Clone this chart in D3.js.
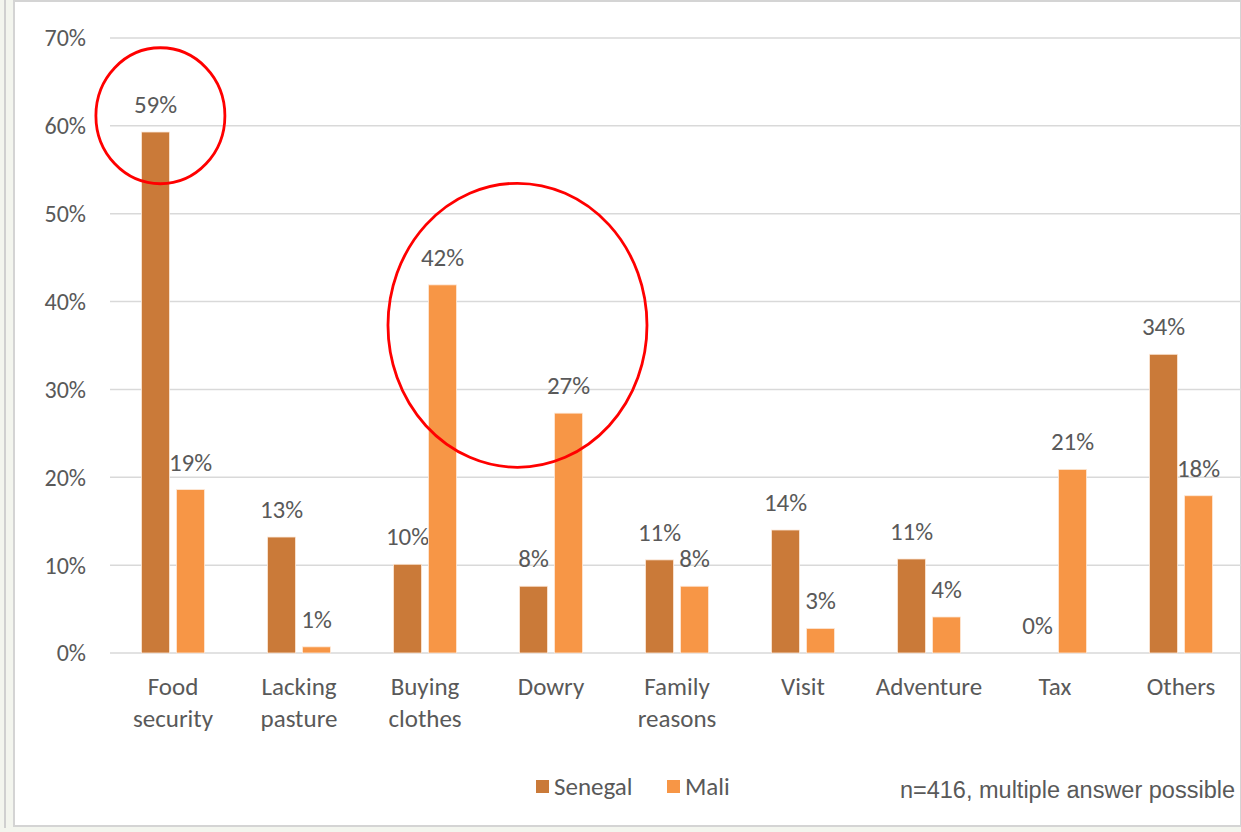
<!DOCTYPE html>
<html>
<head>
<meta charset="utf-8">
<script src="https://cdn.jsdelivr.net/npm/d3@7"></script>
<style>
  html, body { margin: 0; padding: 0; background: #fff; }
  svg { display: block; }
  text { font-family: Carlito, Lato, "Noto Sans", sans-serif; fill: #595959; }
</style>
</head>
<body>
<div id="root"></div>
<script>
const categories = [
  ["Food", "security"], ["Lacking", "pasture"], ["Buying", "clothes"], ["Dowry"],
  ["Family", "reasons"], ["Visit"], ["Adventure"], ["Tax"], ["Others"]
];
const seriesNames = ["Senegal", "Mali"];
const senegal = [59.3, 13.2, 10.1, 7.6, 10.6, 14.0, 10.7, 0, 34.0];
const mali = [18.6, 0.7, 41.9, 27.3, 7.6, 2.8, 4.1, 20.9, 17.9];
const yTicks = [0, 10, 20, 30, 40, 50, 60, 70];
const note = "n=416, multiple answer possible";

const colors = { Senegal: "#CA7A39", Mali: "#F79646" };

const width = 1241, height = 832;
const catKeys = categories.map(c => c.join(" "));

const svg = d3.select("#root").append("svg")
    .attr("width", width)
    .attr("height", height);

// outer frame like the slide it was cut from
svg.append("rect").attr("x", 0).attr("y", 0).attr("width", width).attr("height", height).attr("fill", "#f3f5ee");
svg.append("rect").attr("x", 14).attr("y", 1).attr("width", width - 14).attr("height", 825)
    .attr("fill", "#fff").attr("stroke", "#d4d4d4").attr("stroke-width", 2);
svg.append("line").attr("x1", 5).attr("x2", 5).attr("y1", 0).attr("y2", 828)
    .attr("stroke", "#d0d0d0").attr("stroke-width", 2);

const x0 = d3.scaleBand().domain(catKeys).range([110, 1244]).paddingInner(0).paddingOuter(0);
const groupW = x0.bandwidth() / 2;
const x1 = d3.scaleBand().domain(seriesNames).range([0, groupW]).paddingInner(0.2);
const y = d3.scaleLinear().domain([0, 70]).range([653, 38]);

// gridlines
svg.append("g")
  .selectAll("line")
  .data(yTicks)
  .join("line")
    .attr("x1", 110)
    .attr("x2", width)
    .attr("y1", d => y(d))
    .attr("y2", d => y(d))
    .attr("stroke", "#d9d9d9")
    .attr("stroke-width", 1.5);

// y tick labels
svg.append("g")
  .selectAll("text")
  .data(yTicks)
  .join("text")
    .attr("x", 86)
    .attr("y", d => y(d))
    .attr("dy", "0.35em")
    .attr("text-anchor", "end")
    .style("font-size", "24px")
    .text(d => d + "%");

const rows = catKeys.map((k, i) => ({ key: k, Senegal: senegal[i], Mali: mali[i] }));
const offset = (x0.bandwidth() - groupW) / 2;

const groups = svg.append("g")
  .selectAll("g")
  .data(rows)
  .join("g")
    .attr("transform", d => `translate(${x0(d.key) + offset},0)`);

const cells = groups.selectAll("g")
  .data(d => seriesNames.map(s => ({ s, v: d[s] })))
  .join("g");

cells.append("rect")
    .attr("x", d => x1(d.s))
    .attr("y", d => y(d.v))
    .attr("width", x1.bandwidth())
    .attr("height", d => y(0) - y(d.v))
    .attr("fill", d => colors[d.s])
    .attr("stroke", "#fde9d9")
    .attr("stroke-width", 0.8);

cells.append("text")
    .attr("x", d => x1(d.s) + x1.bandwidth() / 2)
    .attr("y", d => y(d.v) - 19)
    .attr("text-anchor", "middle")
    .style("font-size", "25px")
    .text(d => Math.round(d.v) + "%");

// category labels
const catText = svg.append("g")
  .selectAll("text")
  .data(categories)
  .join("text")
    .attr("text-anchor", "middle")
    .attr("x", (d, i) => x0(catKeys[i]) + x0.bandwidth() / 2)
    .attr("y", 695)
    .style("font-size", "25px");

catText.selectAll("tspan")
  .data(d => d)
  .join("tspan")
    .attr("x", function() { return d3.select(this.parentNode).attr("x"); })
    .attr("dy", (d, i) => i === 0 ? 0 : 32)
    .text(d => d);

// legend
const legendX = [536, 667];
const legend = svg.append("g")
  .selectAll("g")
  .data(seriesNames)
  .join("g")
    .attr("transform", (d, i) => `translate(${legendX[i]},780)`);
legend.append("rect").attr("width", 13).attr("height", 13).attr("fill", d => colors[d]);
legend.append("text").attr("x", 18).attr("y", 15)
    .style("font-size", "25px").text(d => d);

svg.append("text")
    .attr("x", 1235)
    .attr("y", 798)
    .attr("text-anchor", "end")
    .style("font-family", "'Liberation Sans', Arial, sans-serif")
    .style("font-size", "23.5px")
    .text(note);

// red highlight ellipses (annotation)
const highlights = [
  { cat: "Food security", frac: 0.4, v: 61.15, rx: 64.5, ry: 68 },
  { cat: "Buying clothes", frac: 1.234, v: 37.3, rx: 129.5, ry: 142 }
];
svg.append("g")
  .selectAll("ellipse")
  .data(highlights)
  .join("ellipse")
    .attr("cx", d => x0(d.cat) + d.frac * x0.bandwidth())
    .attr("cy", d => y(d.v))
    .attr("rx", d => d.rx)
    .attr("ry", d => d.ry)
    .attr("fill", "none")
    .attr("stroke", "#ff0000")
    .attr("stroke-width", 2.8);
</script>
</body>
</html>
